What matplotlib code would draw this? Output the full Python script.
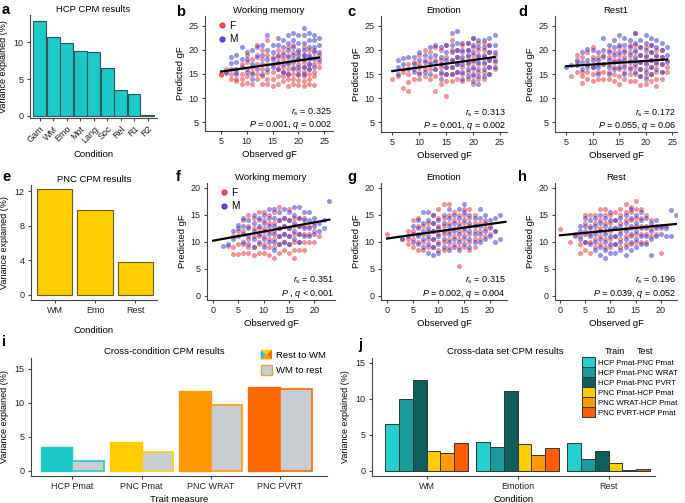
import matplotlib
matplotlib.use('Agg')
import matplotlib.pyplot as plt
import numpy as np
from matplotlib.patches import Patch, Polygon
from matplotlib.lines import Line2D
from matplotlib.legend_handler import HandlerBase

plt.rcParams['font.family'] = ['Liberation Sans', 'DejaVu Sans']
plt.rcParams['mathtext.fontset'] = 'custom'
plt.rcParams['mathtext.rm'] = 'Liberation Sans'
plt.rcParams['mathtext.it'] = 'Liberation Sans:italic'
plt.rcParams['font.size'] = 6.5

# ---------------------------------------------------------------------------
# DATA
# ---------------------------------------------------------------------------
# a: HCP CPM results
hcp_conditions = ['Gam', 'WM', 'Emo', 'Mot', 'Lang', 'Soc', 'Rel', 'R1', 'R2']
hcp_variance = [12.95, 10.68, 9.86, 8.87, 8.69, 6.47, 3.44, 2.9, 0.05]

# e: PNC CPM results
pnc_conditions = ['WM', 'Emo', 'Rest']
pnc_variance = [12.25, 9.86, 3.84]

# scatter panels: observed gF -> predicted gF values
hcp_wm_F = {5: [15, 14.8], 6: [16, 15.2], 7: [14, 15], 8: [13.5, 14, 15.5],
            9: [13, 14, 15, 17], 10: [13.2, 14.5, 16, 17.5, 19], 11: [13, 15.5, 16.5, 18],
            12: [14, 15, 17, 19, 21], 13: [13, 14.5, 16, 18, 20], 14: [13, 14, 15.5, 17, 19, 22],
            15: [12.5, 14, 15.5, 17, 18.5], 16: [13, 14.5, 16, 17, 18.5, 20],
            17: [13.5, 14.5, 15.5, 16.5, 18, 19.5], 18: [12.5, 14, 15, 16, 17.5, 19, 20.5],
            19: [13, 14, 15, 16.5, 18, 19.5, 21], 20: [12.8, 13.8, 14.8, 15.8, 17, 18.2, 19.5],
            21: [12.5, 13.5, 14.5, 15.5, 16.5, 17.5, 19, 20.5], 22: [13, 14, 15, 16, 17, 18.5, 20],
            23: [12.8, 14.5, 15.5, 17, 18.5, 20], 24: [16.5, 17.5, 19]}
hcp_wm_M = {6: [15.5], 7: [18.5, 17.2, 16], 8: [19, 17.5, 16, 15], 9: [20.5, 18, 16.5],
            10: [19.5, 18, 15.5], 11: [20, 17, 15, 14], 12: [20.5, 18.5, 16], 13: [21, 19, 17, 15],
            14: [23, 20, 18, 16], 15: [21, 19.5, 18, 16.5], 16: [22.5, 21, 19, 17.5, 16],
            17: [22, 20.5, 19, 17, 15.5], 18: [23, 21.5, 20, 18.5, 17, 15],
            19: [23.5, 22, 20.5, 19, 17.5, 16], 20: [23, 21.5, 20, 19, 18, 16.5, 15],
            21: [24.5, 23, 21.5, 20, 19, 18, 16.5, 15], 22: [23.5, 22, 20.5, 19, 18, 17, 16],
            23: [23, 22, 20.5, 19.5, 18, 16.5], 24: [22.5, 21, 19.5, 18]}

hcp_emo_F = {5: [14], 6: [14.5], 7: [12.2, 15.5, 16], 8: [11.5, 13.3, 15, 17], 9: [14, 16, 17.5],
             10: [14, 15.5, 17, 19], 11: [14.5, 16, 18, 20], 12: [14, 16, 17.5, 19.5],
             13: [11.5, 14.5, 16, 18, 20.5], 14: [13, 15, 16.5, 18, 20],
             15: [10.5, 13.5, 15, 16.5, 18.5, 21], 16: [13.5, 15, 16.5, 18, 20, 22],
             17: [14, 15.5, 17, 18.5, 20], 18: [13.5, 15, 16.5, 18, 19.5, 21],
             19: [14, 15.5, 17, 18.5, 20, 21.5], 20: [13, 14.5, 16, 17.5, 19, 20.5, 22.5],
             21: [14, 15.5, 17, 18.5, 20, 21.5], 22: [14, 15.5, 17, 18.5, 20, 21.5],
             23: [15, 16.5, 18, 19.5, 21], 24: [16, 17.5, 19]}
hcp_emo_M = {6: [17.8, 16.5, 15], 7: [18.3, 17], 8: [18.5, 16], 9: [18.5, 17, 15.5],
             10: [19.5, 18, 16.5, 15], 11: [19, 17.5, 15.5], 12: [20.5, 18.5, 17, 15],
             13: [21, 19, 17.5, 16], 14: [20.5, 18.5, 17, 15.5, 14], 15: [21, 19.5, 18, 16.5, 15],
             16: [23.5, 21, 19.5, 18, 16.5, 15], 17: [24, 21.5, 20, 18.5, 17, 15.5],
             18: [21.5, 20, 18.5, 17, 15.5, 14], 19: [21.5, 20, 19, 17.5, 16, 14.5],
             20: [22.5, 21, 19.5, 18, 16.5, 15, 13.5], 21: [22, 20.5, 19, 17.5, 16, 14.5, 13],
             22: [22, 20.5, 19, 17.5, 16, 14.5], 23: [22.5, 21, 19.5, 18, 16.5, 15],
             24: [23, 21, 19.5, 18, 16.5]}

hcp_rest_F = {6: [14.5], 7: [15.5, 17.5, 19], 8: [13.2, 14.5, 15.5, 18.5], 9: [14, 15.5, 17, 19.5],
              10: [13.5, 15, 16.5, 18.5, 20.5], 11: [14, 15.5, 17, 18.5], 12: [14, 15.5, 17, 19],
              13: [14, 15.5, 17, 18.5, 20], 14: [13.5, 15, 16.5, 18, 19.5],
              15: [13, 14.5, 16, 17.5, 19, 20.5], 16: [14, 15.5, 17, 18.5, 20],
              17: [13.5, 15, 16.5, 18, 19.5, 21], 18: [13.5, 15, 16.5, 18, 19.5, 21, 23.5],
              19: [12.8, 14.5, 16, 17.5, 19, 20.5], 20: [13, 14.5, 16, 17.5, 19, 20.5],
              21: [13.5, 15, 16.5, 18, 19.5, 21], 22: [12.5, 14, 15.5, 17, 18.5, 20],
              23: [14, 15.5, 17, 18.5, 20], 24: [15.5, 16.5, 18]}
hcp_rest_M = {5: [16.5], 6: [16.8], 7: [18, 16.8], 8: [19.5, 17.5, 16], 9: [20.2, 18, 16.5],
              10: [20, 18, 16.5], 11: [19.5, 18, 16.5, 15], 12: [22.5, 20, 18.5, 17],
              13: [21, 19.5, 18, 16.5, 15], 14: [22, 20.5, 19, 17.5, 16], 15: [23, 21, 19.5, 18, 16.5],
              16: [22.5, 21, 19.5, 18, 16.5, 15], 17: [22, 20.5, 19, 17.5, 16],
              18: [23.5, 21.5, 20, 18.5, 17, 15.5], 19: [22, 20.5, 19, 17.5, 16, 14.5],
              20: [23, 21.5, 20, 18.5, 17, 15.5, 14], 21: [22.5, 21, 19.5, 18, 16.5, 15],
              22: [22, 20.5, 19, 17.5, 16], 23: [21.5, 20, 18.5, 17, 15.5], 24: [20.5, 19, 17.5]}

pnc_wm_F = {3: [9.3], 4: [7.8, 9, 11], 5: [7.8, 9.5, 12], 6: [8, 9.5, 12, 14], 7: [8, 9, 10.5, 13, 15],
            8: [7.5, 9, 11, 12.5, 14.5], 9: [8, 9.5, 11, 12.5, 14, 15.5], 10: [8, 9.5, 11, 12.5, 14, 15.5],
            11: [7.5, 9, 10.5, 12, 13.5, 15], 12: [7, 9, 10.5, 12, 13.5, 15.5],
            13: [8, 9.5, 11, 12.5, 14, 16.5], 14: [8.5, 10, 11.5, 13, 14.5],
            15: [8, 9.5, 11, 12.5, 14, 16], 16: [7, 8.5, 10, 11.5, 13, 14.5],
            17: [8.5, 10, 11.5, 13, 14.5], 18: [8.5, 10, 11.5, 13, 14.5], 19: [10, 11.5, 13],
            20: [10, 12, 13.5], 21: [11]}
pnc_wm_M = {2: [9.2], 3: [9.5], 4: [10.5, 12], 5: [11, 12.5, 13.2], 6: [10, 11.5, 13, 14.5],
            7: [9.5, 11, 12.5, 14], 8: [9, 10.5, 12, 13.5, 15], 9: [10, 11.5, 13, 14.5],
            10: [9, 10.5, 12, 13.5, 15], 11: [10, 11.5, 13, 14.5, 16], 12: [8.5, 10, 11.5, 13, 14.5, 16],
            13: [9.5, 11, 12.5, 14, 15.5], 14: [10, 11.5, 13, 14.5, 16], 15: [9.5, 11, 12.5, 14, 15.5],
            16: [10.5, 12, 13.5, 15, 16.5], 17: [10, 11.5, 13, 14.5, 16.5], 18: [11, 12.5, 14, 15.5],
            19: [11, 12.5, 14, 15.5], 20: [11.5, 13, 14.5], 21: [12, 13.5], 22: [12.5, 14], 23: [17.5]}

pnc_emo_F = {0: [11.5], 3: [10.5], 4: [9.5, 10.5, 12], 5: [9, 10.5, 12, 14], 6: [8.5, 10, 11.5, 13, 14.5],
             7: [8.5, 10, 11.5, 13], 8: [9, 10.5, 12, 13.5], 9: [9, 10.5, 12, 13.5, 15],
             10: [8.5, 10, 11.5, 13, 14.5, 16], 11: [8.5, 10, 11.5, 13, 14.5, 17],
             12: [9, 10.5, 12, 13.5, 15, 17], 13: [9.5, 11, 12.5, 14, 15.5],
             14: [5.5, 9, 10.5, 12, 13.5, 15], 15: [9, 10.5, 12, 13.5, 15, 16],
             16: [8.5, 10, 11.5, 13, 14.5, 16], 17: [9, 10.5, 12, 13.5, 15], 18: [10.5, 12, 13.5],
             19: [11, 12.5, 14], 20: [11.5, 13], 21: [12]}
pnc_emo_M = {3: [10.5], 4: [11], 5: [10, 11.5, 13], 6: [9.5, 11, 12.5, 14], 7: [9, 10.5, 12, 13.5, 15.5],
             8: [8, 9.5, 11, 12.5, 14, 15.5], 9: [7.5, 9, 10.5, 12, 13.5, 15], 10: [8, 9.5, 11, 12.5, 14],
             11: [9, 10.5, 12, 13.5, 15], 12: [8.5, 10, 11.5, 13, 14.5, 16], 13: [9, 10.5, 12, 13.5, 15],
             14: [8.5, 10, 11.5, 13, 14.5, 16], 15: [9.5, 11, 12.5, 14, 15.5, 17],
             16: [9, 10.5, 12, 13.5, 15], 17: [10, 11.5, 13, 14.5], 18: [10, 11.5, 13, 14.5, 16],
             19: [10.5, 12, 13.5, 15], 20: [11, 12.5, 14], 21: [10, 12, 14.5], 22: [10.5, 15]}

pnc_rest_F = {0: [12.3], 2: [10], 3: [11.5], 4: [8, 9.5, 11], 5: [8.5, 10, 12, 13.5, 15],
              6: [8, 10, 11.5, 13, 15], 7: [9, 10.5, 12, 13.5, 15], 8: [9.5, 11, 12.5, 14, 16],
              9: [9, 10.5, 12, 13.5, 15, 16], 10: [9, 10.5, 12, 13.5, 15], 11: [9.5, 11, 12.5, 14, 15.5],
              12: [9, 10.5, 12, 13.5, 15, 16], 13: [9.5, 11, 12.5, 14, 15.5, 17],
              14: [9.5, 11, 12.5, 14, 15.5, 16.5], 15: [10, 11.5, 13, 14.5, 16, 17.5],
              16: [10, 11.5, 13, 14.5, 16], 17: [10, 11.5, 13, 15], 18: [11, 12.5, 14],
              19: [11.5, 13], 20: [8, 12.5], 21: [13]}
pnc_rest_M = {3: [11], 4: [10.5, 12, 13], 5: [10, 11.5, 13, 14.5], 6: [9.5, 11, 12.5, 14],
              7: [8.5, 10, 11.5, 13, 14.5], 8: [7.5, 9, 10.5, 12, 13.5, 15], 9: [7, 8.5, 10, 11.5, 13, 14.5],
              10: [8, 9.5, 11, 12.5, 14, 15.5], 11: [8, 9.5, 11, 12.5, 14], 12: [8.5, 10, 11.5, 13, 14.5],
              13: [7.5, 9, 10.5, 12, 13.5, 15], 14: [8.5, 10, 11.5, 13, 14.5, 16],
              15: [9, 10.5, 12, 13.5, 15], 16: [9.5, 11, 12.5, 14, 15.5], 17: [9.5, 11, 12.5, 14.5],
              18: [7.5, 10.5, 12, 13.5], 19: [11, 12.5, 14], 20: [11.5, 13], 21: [11, 12.5],
              22: [15.8, 11], 23: [15]}

# regression line end points (observed gF, predicted gF)
hcp_fit_x = [5, 24]
hcp_wm_fit = [15.5, 18.4]
hcp_emo_fit = [15.6, 18.5]
hcp_rest_fit = [16.6, 18.0]
pnc_fit_x = [0, 23]
pnc_wm_fit = [10.2, 14.1]
pnc_emo_fit = [10.6, 13.7]
pnc_rest_fit = [11.2, 13.3]

stats_text = {
    'b': ('0.325', r'$P$ = 0.001, $q$ = 0.002'),
    'c': ('0.313', r'$P$ = 0.001, $q$ = 0.002'),
    'd': ('0.172', r'$P$ = 0.055, $q$ = 0.06'),
    'f': ('0.351', r'$P$ , $q$ < 0.001'),
    'g': ('0.315', r'$P$ = 0.002, $q$ = 0.004'),
    'h': ('0.196', r'$P$ = 0.039, $q$ = 0.052'),
}

# i: cross-condition CPM
trait_measures = ['HCP Pmat', 'PNC Pmat', 'PNC WRAT', 'PNC PVRT']
rest_to_wm = [3.47, 4.2, 11.7, 12.39]
wm_to_rest = [1.43, 2.82, 9.6, 12.1]

# j: cross-data set CPM
cross_conditions = ['WM', 'Emotion', 'Rest']
cross_labels = ['HCP Pmat-PNC Pmat', 'HCP Pmat-PNC WRAT', 'HCP Pmat-PNC PVRT',
                'PNC Pmat-HCP Pmat', 'PNC WRAT-HCP Pmat', 'PNC PVRT-HCP Pmat']
cross_values = [
    [6.47, 3.95, 3.9],
    [10.0, 3.35, 1.58],
    [12.67, 11.05, 2.7],
    [2.7, 3.67, 1.12],
    [2.42, 2.14, 0.02],
    [3.77, 3.12, 0.19],
]

# ---------------------------------------------------------------------------
# STYLE
# ---------------------------------------------------------------------------
W, H = 685, 503
TEAL = '#1CC9C9'
YELLOW = '#FFCC00'
ORANGE = '#FF9900'
DKORANGE = '#FF6A00'
GRAY = '#C9CDD1'
RED = '#E8262B'
BLUE = '#2A2AD2'
cross_colors = ['#22D0D0', '#1A9C9C', '#0E5E5E', YELLOW, ORANGE, '#FF5E00']
SPINE = '#444444'

fig = plt.figure(figsize=(6.85, 5.03), dpi=100)


def add_ax(l, t, r, b):
    return fig.add_axes([l / W, 1 - b / H, (r - l) / W, (b - t) / H])


def style(ax):
    for s in ['top', 'right']:
        ax.spines[s].set_visible(False)
    for s in ['left', 'bottom']:
        ax.spines[s].set_color(SPINE)
        ax.spines[s].set_linewidth(0.8)
    ax.tick_params(length=2.5, width=0.8, color=SPINE, labelsize=6.5, pad=2,
                   labelcolor='#222222')


def letter(x, y, s):
    fig.text(x / W, 1 - y / H, s, fontsize=10.5, fontweight='bold', va='center', ha='left')


def scatter_panel(ax, F, M, fit_x, fit_y, title, key, legend=False):
    style(ax)
    for pts, c in [(F, RED), (M, BLUE)]:
        xs = [x for x, ys in pts.items() for _ in ys]
        ys = [y for ys in pts.values() for y in ys]
        ax.scatter(xs, ys, s=13, color=c, alpha=0.5, lw=0, zorder=2)
    ax.plot(fit_x, fit_y, color='black', lw=1.6, zorder=3)
    ax.set_title(title, fontsize=6.8, pad=2)
    ax.set_xlabel('Observed gF', fontsize=6.8, labelpad=3)
    ax.set_ylabel('Predicted gF', fontsize=6.8, labelpad=3)
    r, p = stats_text[key]
    ax.text(0.99, 0.165, r'$r_{\mathrm{s}}$ = ' + r, transform=ax.transAxes,
            ha='right', va='center', fontsize=6.5)
    ax.text(0.99, 0.05, p, transform=ax.transAxes, ha='right', va='center', fontsize=6.5)
    if legend:
        h = [Line2D([], [], marker='o', ls='', color=RED, ms=3.5, alpha=0.8),
             Line2D([], [], marker='o', ls='', color=BLUE, ms=3.5, alpha=0.8)]
        ax.legend(h, ['F', 'M'], loc='upper left', bbox_to_anchor=(0.03, 1.02),
                  frameon=False, fontsize=7.2, handletextpad=0.1, borderpad=0.2,
                  labelspacing=0.35, handlelength=1.2)


# ---------------------------------------------------------------------------
# a: HCP bar chart
# ---------------------------------------------------------------------------
ax = add_ax(30, 15, 157, 118)
style(ax)
ax.bar(range(len(hcp_conditions)), hcp_variance, width=0.95, color=TEAL,
       edgecolor='#2D5656', lw=0.8)
ax.set_xlim(-0.72, 8.7)
ax.set_ylim(-0.3, 13.7)
ax.set_yticks([0, 5, 10])
ax.set_xticks(range(len(hcp_conditions)))
ax.set_xticklabels(hcp_conditions, rotation=45, ha='right', rotation_mode='anchor')
ax.set_title('HCP CPM results', fontsize=6.8, pad=2)
ax.set_xlabel('Condition', fontsize=6.8, labelpad=4)
ax.set_ylabel('Variance explained (%)', fontsize=6.5, labelpad=4)
letter(2, 10, 'a')

# ---------------------------------------------------------------------------
# b, c, d: HCP scatter
# ---------------------------------------------------------------------------
ax = add_ax(205, 16, 333, 131)
scatter_panel(ax, hcp_wm_F, hcp_wm_M, hcp_fit_x, hcp_wm_fit, 'Working memory', 'b', legend=True)
ax.set_xlim(1.9, 26.7)
ax.set_ylim(3.2, 27)
ax.set_xticks([5, 10, 15, 20, 25])
ax.set_yticks([5, 10, 15, 20, 25])
letter(176, 12, 'b')

ax = add_ax(381, 16, 507, 132)
scatter_panel(ax, hcp_emo_F, hcp_emo_M, hcp_fit_x, hcp_emo_fit, 'Emotion', 'c')
ax.set_xlim(2.9, 26.3)
ax.set_ylim(3.0, 27)
ax.set_xticks([5, 10, 15, 20, 25])
ax.set_yticks([5, 10, 15, 20, 25])
letter(347, 12, 'c')

ax = add_ax(555, 16, 677, 132)
scatter_panel(ax, hcp_rest_F, hcp_rest_M, hcp_fit_x, hcp_rest_fit, 'Rest1', 'd')
ax.set_xlim(2.9, 25.9)
ax.set_ylim(3.0, 27)
ax.set_xticks([5, 10, 15, 20, 25])
ax.set_yticks([5, 10, 15, 20, 25])
letter(518, 12, 'd')

# ---------------------------------------------------------------------------
# e: PNC bar chart
# ---------------------------------------------------------------------------
ax = add_ax(31, 185, 157, 300)
style(ax)
ax.bar(range(len(pnc_conditions)), pnc_variance, width=0.875, color=YELLOW,
       edgecolor='#6B5A22', lw=0.8)
ax.set_xlim(-0.59, 2.54)
ax.set_ylim(-0.6, 12.7)
ax.set_yticks([0, 4, 8, 12])
ax.set_xticks(range(len(pnc_conditions)))
ax.set_xticklabels(pnc_conditions)
ax.set_title('PNC CPM results', fontsize=6.8, pad=2)
ax.set_xlabel('Condition', fontsize=6.8, labelpad=8)
ax.set_ylabel('Variance explained (%)', fontsize=6.5, labelpad=4)
letter(2, 177, 'e')

# ---------------------------------------------------------------------------
# f, g, h: PNC scatter
# ---------------------------------------------------------------------------
ax = add_ax(207, 183, 335, 300)
scatter_panel(ax, pnc_wm_F, pnc_wm_M, pnc_fit_x, pnc_wm_fit, 'Working memory', 'f', legend=True)
ax.set_xlim(-1.2, 24.1)
ax.set_ylim(-0.8, 20.9)
ax.set_xticks([0, 5, 10, 15, 20])
ax.set_yticks([0, 5, 10, 15, 20])
letter(176, 177, 'f')

ax = add_ax(381, 183, 507, 300)
scatter_panel(ax, pnc_emo_F, pnc_emo_M, pnc_fit_x, pnc_emo_fit, 'Emotion', 'g')
ax.set_xlim(-1.16, 23.3)
ax.set_ylim(-0.8, 20.9)
ax.set_xticks([0, 5, 10, 15, 20])
ax.set_yticks([0, 5, 10, 15, 20])
letter(347, 177, 'g')

ax = add_ax(555, 183, 677, 300)
scatter_panel(ax, pnc_rest_F, pnc_rest_M, pnc_fit_x, pnc_rest_fit, 'Rest', 'h')
ax.set_xlim(-0.98, 23.2)
ax.set_ylim(-0.8, 20.9)
ax.set_xticks([0, 5, 10, 15, 20])
ax.set_yticks([0, 5, 10, 15, 20])
letter(518, 177, 'h')

# ---------------------------------------------------------------------------
# i: cross-condition CPM
# ---------------------------------------------------------------------------
ax = add_ax(31, 358, 327, 476)
style(ax)
group_colors = [TEAL, YELLOW, ORANGE, DKORANGE]
bw = 0.457
xi = np.arange(len(trait_measures))
ax.bar(xi - bw / 2, rest_to_wm, width=bw, color=group_colors, edgecolor=group_colors, lw=1)
ax.bar(xi + bw / 2, wm_to_rest, width=bw, color=GRAY, edgecolor=group_colors, lw=1.2)
ax.set_xlim(-0.6, 3.68)
ax.set_ylim(-0.79, 16.6)
ax.set_yticks([0, 5, 10, 15])
ax.set_xticks(xi)
ax.set_xticklabels(trait_measures)
ax.set_xlabel('Trait measure', fontsize=6.8, labelpad=3)
ax.set_ylabel('Variance explained (%)', fontsize=6.5, labelpad=4)
fig.text(164 / W, 1 - 352 / H, 'Cross-condition CPM results', fontsize=6.8,
         ha='center', va='center')
letter(2, 342, 'i')


class MultiColorHandler(HandlerBase):
    def __init__(self, face=None):
        super().__init__()
        self.face = face

    def create_artists(self, legend, orig_handle, xdescent, ydescent, width, height,
                       fontsize, trans):
        x0, y0 = -xdescent, -ydescent
        cx, cy = x0 + width / 2, y0 + height / 2
        corners = [(x0, y0), (x0, y0 + height), (x0 + width, y0 + height), (x0 + width, y0)]
        arts = []
        if self.face is None:
            cols = [TEAL, YELLOW, DKORANGE, ORANGE]
            for k in range(4):
                tri = Polygon([corners[k], corners[(k + 1) % 4], (cx, cy)], closed=True,
                              facecolor=cols[k], edgecolor='none', transform=trans)
                arts.append(tri)
        else:
            sq = Polygon(corners, closed=True, facecolor=self.face, edgecolor='#D8A45A',
                         lw=1.0, transform=trans)
            arts.append(sq)
        return arts


h_rest = Patch(facecolor=TEAL)
h_wm = Patch(facecolor=GRAY)
ax.legend([h_rest, h_wm], ['Rest to WM', 'WM to rest'],
          handler_map={h_rest: MultiColorHandler(), h_wm: MultiColorHandler(GRAY)},
          loc='upper left', bbox_to_anchor=(256 / W, 1 - 345 / H), bbox_transform=fig.transFigure,
          frameon=False, fontsize=6.8, handlelength=1.2, handleheight=1.2,
          handletextpad=0.45, labelspacing=0.6, borderpad=0)

# ---------------------------------------------------------------------------
# j: cross-data set CPM
# ---------------------------------------------------------------------------
ax = add_ax(372, 358, 655, 476)
style(ax)
jw = 0.152
xj = np.arange(len(cross_conditions))
handles = []
for k, (vals, col) in enumerate(zip(cross_values, cross_colors)):
    ax.bar(xj + (k - 2.5) * jw, vals, width=jw, color=col, edgecolor='#2E3838', lw=0.7)
    handles.append(Patch(facecolor=col, edgecolor='#2E3838', lw=0.7))
ax.set_xlim(-0.6, 2.51)
ax.set_ylim(-0.75, 15.66)
ax.set_yticks([0, 5, 10, 15])
ax.set_xticks(xj)
ax.set_xticklabels(cross_conditions)
ax.set_xlabel('Condition', fontsize=6.8, labelpad=3)
ax.set_ylabel('Variance explained (%)', fontsize=6.5, labelpad=4)
fig.text(505 / W, 1 - 352 / H, 'Cross-data set CPM results', fontsize=6.8,
         ha='center', va='center')
ax.legend(handles, cross_labels, loc='upper left',
          bbox_to_anchor=(582 / W, 1 - 357 / H), bbox_transform=fig.transFigure,
          frameon=False, fontsize=5.6, handlelength=1.65, handleheight=1.6,
          handletextpad=0.35, labelspacing=0.0, borderpad=0, borderaxespad=0)
fig.text(605 / W, 1 - 352 / H, 'Train', fontsize=6.5, ha='left', va='center')
fig.text(637 / W, 1 - 352 / H, 'Test', fontsize=6.5, ha='left', va='center')
letter(358, 345, 'j')

fig.savefig('out.png', dpi=100)
